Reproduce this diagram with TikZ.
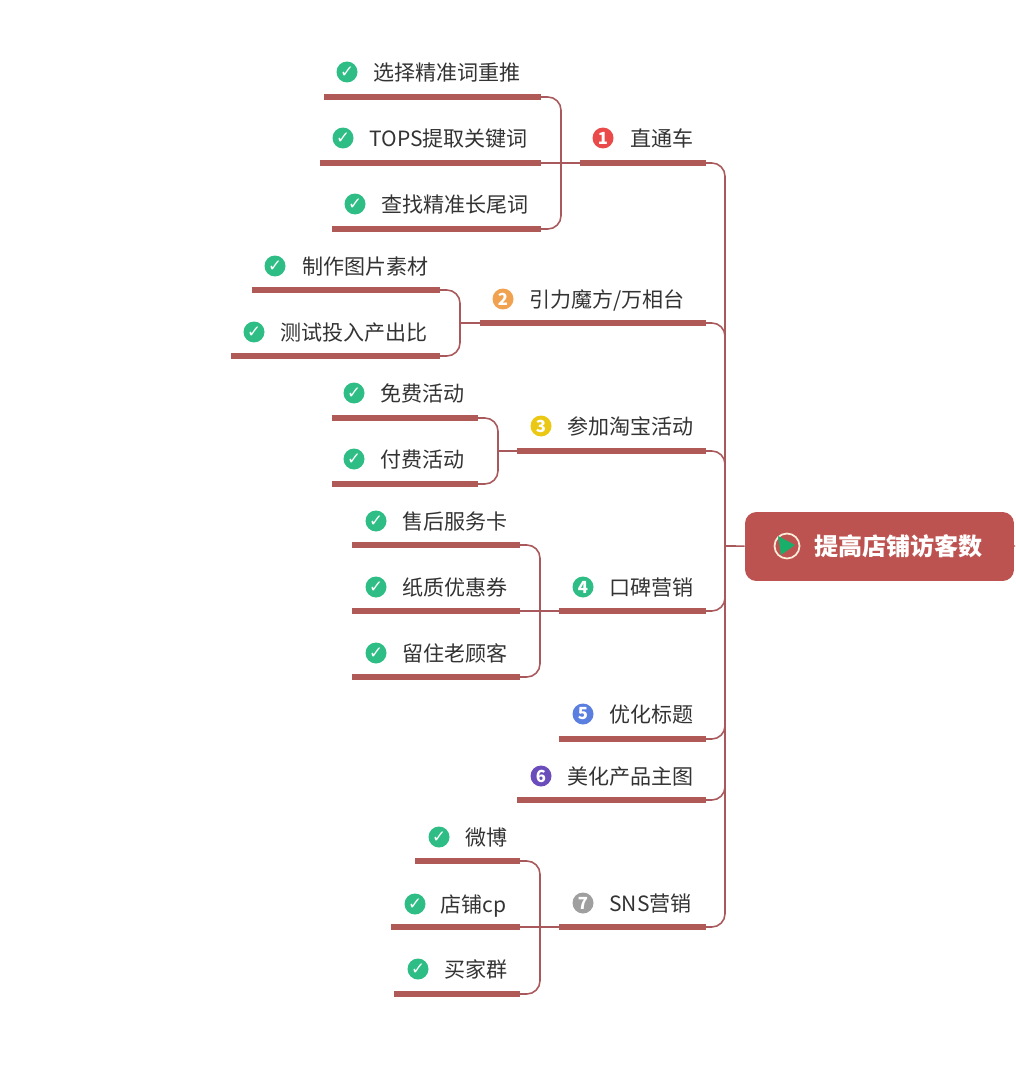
\documentclass[tikz,border=0pt]{standalone}
\usepackage{fontspec}
\setmainfont{Noto Sans CJK SC}
\newfontfamily\checkfont{DejaVu Sans}
\definecolor{rootred}{HTML}{BD5350}
\definecolor{barred}{HTML}{B05A58}
\definecolor{linkred}{HTML}{A9585B}
\definecolor{okgreen}{HTML}{2EBD85}
\definecolor{wordgray}{HTML}{333333}
\begin{document}
\begin{tikzpicture}[x=0.02cm,y=-0.02cm,line join=round,line cap=butt,
	bar/.style={barred,line width=2.9pt},
	link/.style={linkred,line width=0.9pt,rounded corners=7.5pt},
	word/.style={anchor=west,inner sep=0pt,yshift=-1.4pt,text=wordgray,font=\fontsize{11.97}{14}\selectfont,text height=0.8em,text depth=0.14em},
	num/.style={circle,inner sep=0pt,minimum size=0.42cm,text=white,font=\fontsize{9.5}{10}\selectfont\bfseries},
	okmark/.style={circle,inner sep=0pt,minimum size=0.42cm,fill=okgreen,text=white,font=\fontsize{9.5}{9}\selectfont\checkfont\bfseries}]
	\useasboundingbox (0,0) rectangle (1015,1071);
	% root
	\node[fill=rootred,rounded corners=6.5pt,inner sep=0pt,minimum width=5.38cm,minimum height=1.38cm] (root) at (879.5,546.5) {};
	\node[circle,draw=orange!15,line width=1pt,inner sep=0pt,minimum size=0.5cm] (flagring) at (787,546) {};
	\fill[teal!70!green!90!white] (778,536)--(795,545)--(781,555)--cycle;
	\node[anchor=west,inner sep=0pt,text=white,font=\fontsize{13.7}{16}\selectfont\bfseries] (title) at (814,546) {提高店铺访客数};
	\coordinate (spine) at (725,546);
	\coordinate (rootend) at (1015,546);
	\draw[linkred,line width=0.9pt] (spine)--(root) (root)--(rootend);
	% topics
	\node[num,fill={rgb,255:red,235;green,74;blue,74}] (n1) at (603,138) {1};
	\node[word] (t1) at (630,138) {直通车};
	\coordinate (b1) at (580,163); \coordinate (c1) at (706,163);
	\node[num,fill={rgb,255:red,240;green,162;blue,80}] (n2) at (503,299) {2};
	\node[word] (t2) at (529,299) {引力魔方/万相台};
	\coordinate (b2) at (480,323); \coordinate (c2) at (706,323);
	\node[num,fill={rgb,255:red,234;green,200;blue,20}] (n3) at (541,426) {3};
	\node[word] (t3) at (567,426) {参加淘宝活动};
	\coordinate (b3) at (517,451); \coordinate (c3) at (706,451);
	\node[num,fill=okgreen] (n4) at (583,587) {4};
	\node[word] (t4) at (609,587) {口碑营销};
	\coordinate (b4) at (559,611); \coordinate (c4) at (706,611);
	\node[num,fill={rgb,255:red,91;green,127;blue,224}] (n5) at (583,714) {5};
	\node[word] (t5) at (609,714) {优化标题};
	\coordinate (b5) at (559,739); \coordinate (c5) at (706,739);
	\node[num,fill={rgb,255:red,106;green,77;blue,187}] (n6) at (541,776) {6};
	\node[word] (t6) at (567,776) {美化产品主图};
	\coordinate (b6) at (517,800); \coordinate (c6) at (706,800);
	\node[num,fill=gray!75] (n7) at (583,903) {7};
	\node[word] (t7) at (609,903) {SNS营销};
	\coordinate (b7) at (559,927); \coordinate (c7) at (706,927);
	\draw[bar] (b1)--(c1) (b2)--(c2) (b3)--(c3) (b4)--(c4) (b5)--(c5) (b6)--(c6) (b7)--(c7);
	\draw[link] (c1) -| (spine);
	\draw[link] (c2) -| (spine);
	\draw[link] (c3) -| (spine);
	\draw[link] (c4) -| (spine);
	\draw[link] (c5) -| (spine);
	\draw[link] (c6) -| (spine);
	\draw[link] (c7) -| (spine);
	% topic 1
	\node[okmark] (k11) at (347,72) {✓};
	\node[word] (w11) at (373,72) {选择精准词重推};
	\coordinate (p11) at (324,97); \coordinate (q11) at (541,97);
	\node[okmark] (k12) at (343,138) {✓};
	\node[word] (w12) at (369,138) {TOPS提取关键词};
	\coordinate (p12) at (320,163); \coordinate (q12) at (541,163);
	\node[okmark] (k13) at (355,204) {✓};
	\node[word] (w13) at (381,204) {查找精准长尾词};
	\coordinate (p13) at (332,229); \coordinate (q13) at (541,229);
	\coordinate (j1) at (561,163);
	\draw[bar] (p11)--(q11) (p12)--(q12) (p13)--(q13);
	\draw[link] (q11) -| (j1);
	\draw[link] (q13) -| (j1);
	\draw[link] (q12)--(b1);
	% topic 2
	\node[okmark] (k21) at (275,266) {✓};
	\node[word] (w21) at (302,266) {制作图片素材};
	\coordinate (p21) at (252,290); \coordinate (q21) at (440,290);
	\node[okmark] (k22) at (254,332) {✓};
	\node[word] (w22) at (280,332) {测试投入产出比};
	\coordinate (p22) at (231,356); \coordinate (q22) at (440,356);
	\coordinate (j2) at (460,323);
	\draw[bar] (p21)--(q21) (p22)--(q22);
	\draw[link] (q21) -| (j2);
	\draw[link] (q22) -| (j2);
	\draw[link] (j2)--(b2);
	% topic 3
	\node[okmark] (k31) at (354,393) {✓};
	\node[word] (w31) at (380,393) {免费活动};
	\coordinate (p31) at (332,418); \coordinate (q31) at (478,418);
	\node[okmark] (k32) at (354,459) {✓};
	\node[word] (w32) at (380,459) {付费活动};
	\coordinate (p32) at (332,484); \coordinate (q32) at (478,484);
	\coordinate (j3) at (498,451);
	\draw[bar] (p31)--(q31) (p32)--(q32);
	\draw[link] (q31) -| (j3);
	\draw[link] (q32) -| (j3);
	\draw[link] (j3)--(b3);
	% topic 4
	\node[okmark] (k41) at (376,521) {✓};
	\node[word] (w41) at (402,521) {售后服务卡};
	\coordinate (p41) at (352,545); \coordinate (q41) at (520,545);
	\node[okmark] (k42) at (376,587) {✓};
	\node[word] (w42) at (402,587) {纸质优惠券};
	\coordinate (p42) at (352,611); \coordinate (q42) at (520,611);
	\node[okmark] (k43) at (376,653) {✓};
	\node[word] (w43) at (402,653) {留住老顾客};
	\coordinate (p43) at (352,677); \coordinate (q43) at (520,677);
	\coordinate (j4) at (540,611);
	\draw[bar] (p41)--(q41) (p42)--(q42) (p43)--(q43);
	\draw[link] (q41) -| (j4);
	\draw[link] (q43) -| (j4);
	\draw[link] (q42)--(b4);
	% topic 7
	\node[okmark] (k71) at (439,837) {✓};
	\node[word] (w71) at (465,837) {微博};
	\coordinate (p71) at (415,861); \coordinate (q71) at (520,861);
	\node[okmark] (k72) at (415,904) {✓};
	\node[word] (w72) at (440,904) {店铺cp};
	\coordinate (p72) at (391,927); \coordinate (q72) at (520,927);
	\node[okmark] (k73) at (418,969) {✓};
	\node[word] (w73) at (444,969) {买家群};
	\coordinate (p73) at (394,994); \coordinate (q73) at (520,994);
	\coordinate (j7) at (540,927);
	\draw[bar] (p71)--(q71) (p72)--(q72) (p73)--(q73);
	\draw[link] (q71) -| (j7);
	\draw[link] (q73) -| (j7);
	\draw[link] (q72)--(b7);
\end{tikzpicture}
\end{document}
